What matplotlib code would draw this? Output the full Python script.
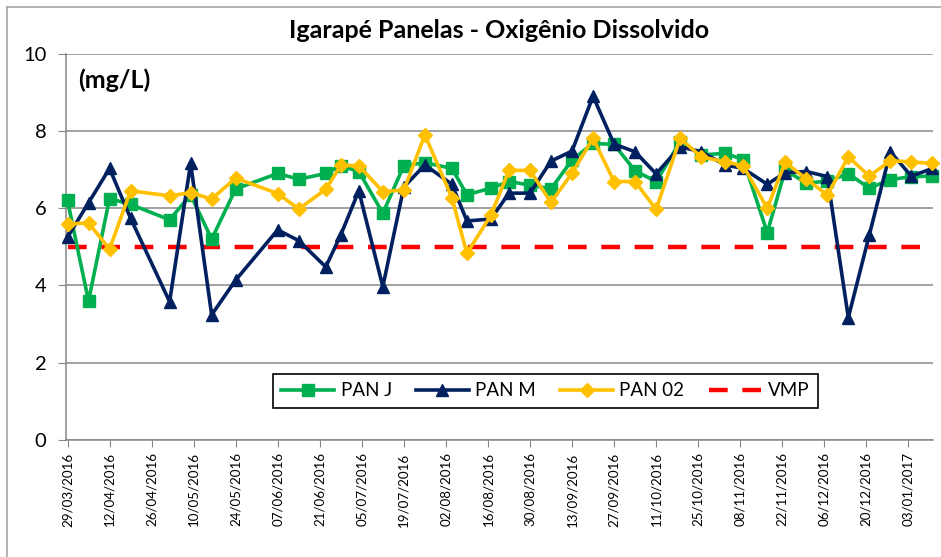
"""
Igarapé Panelas - Oxigênio Dissolvido: PAN J, PAN M, PAN 02 against the VMP limit.
"""
import datetime as dt

import matplotlib
matplotlib.use("Agg")
import matplotlib.pyplot as plt
import matplotlib.dates as mdates
from matplotlib.lines import Line2D

plt.rcParams['font.family'] = ['Lato', 'DejaVu Sans']

# sampling days, counted from 29/03/2016
start = dt.date(2016, 3, 29)
sample_days = [0, 7, 14, 21, 34, 41, 48, 56, 70, 77,
               86, 91, 97, 105, 112, 119, 128, 133, 141, 147,
               154, 161, 168, 175, 182, 189, 196, 204, 211, 219,
               225, 233, 239, 246, 253, 260, 267, 274, 281, 288]
dates = [start + dt.timedelta(days=d) for d in sample_days]

pan_j = [6.20, 3.60, 6.25, 6.10, 5.70, 6.35, 5.20, 6.50, 6.90, 6.75,
         6.90, 7.10, 6.95, 5.87, 7.10, 7.18, 7.03, 6.35, 6.52, 6.69,
         6.60, 6.50, 7.25, 7.68, 7.65, 6.97, 6.69, 7.72, 7.38, 7.42,
         7.26, 5.37, 6.99, 6.65, 6.70, 6.89, 6.52, 6.74, 6.82, 6.83]

pan_m = [5.25, 6.14, 7.03, 5.74, 3.58, 7.16, 3.24, 4.14, 5.44, 5.16,
         4.48, 5.31, 6.45, 3.97, 6.55, 7.12, 6.62, 5.67, 5.72, 6.39,
         6.39, 7.22, 7.48, 8.90, 7.66, 7.46, 6.89, 7.59, 7.46, 7.12,
         7.03, 6.62, 6.92, 6.95, 6.82, 3.17, 5.31, 7.46, 6.83, 7.03]

pan_02 = [5.59, 5.62, 4.94, 6.45, 6.32, 6.40, 6.24, 6.78, 6.38, 5.98,
          6.49, 7.11, 7.10, 6.43, 6.47, 7.90, 6.27, 4.83, 5.82, 6.98,
          6.98, 6.15, 6.91, 7.81, 6.69, 6.69, 5.97, 7.81, 7.33, 7.20,
          7.10, 6.00, 7.19, 6.76, 6.34, 7.33, 6.83, 7.23, 7.20, 7.16]

vmp = 5.0

tick_dates = [start + dt.timedelta(days=14 * k) for k in range(21)]

fig = plt.figure(figsize=(9.41, 5.57), dpi=100)
ax = fig.add_axes([66 / 941, 1 - 440 / 557, 867 / 941, 386.3 / 557])

# outer chart border (only top and left are visible in the crop)
fig.add_artist(Line2D([7 / 941, 1.0], [1 - 7 / 557] * 2, color='#a6a6a6', lw=1.2))
fig.add_artist(Line2D([7 / 941] * 2, [0.0, 1 - 7 / 557], color='#a6a6a6', lw=1.2))

ax.plot(dates, pan_j, color='#00b050', lw=2.6, marker='s', ms=8.5,
        label='PAN J', clip_on=False, zorder=3)
ax.plot(dates, pan_m, color='#002060', lw=2.6, marker='^', ms=9,
        label='PAN M', clip_on=False, zorder=4)
ax.plot(dates, pan_02, color='#ffc000', lw=2.6, marker='D', ms=7,
        label='PAN 02', clip_on=False, zorder=5)
ax.plot([start, dates[-1]], [vmp, vmp], color='#ff0000', lw=3.2,
        dashes=(4.2, 3.3), label='VMP', zorder=2)

ax.set_xlim(mdates.date2num(start) - 0.5, mdates.date2num(dates[-1]) + 0.2)
ax.set_ylim(0, 10)
ax.set_yticks([0, 2, 4, 6, 8, 10])
ax.set_xticks(tick_dates)
ax.xaxis.set_major_formatter(mdates.DateFormatter('%d/%m/%Y'))
for lab in ax.get_xticklabels():
    lab.set_rotation(90)

ax.tick_params(axis='x', labelsize=9.6, length=5, color='#868686', pad=4)
ax.tick_params(axis='y', labelsize=14.5, length=6, color='#868686', pad=8)
ax.grid(axis='y', color='#868686', lw=1.1)
ax.set_axisbelow(True)
for side in ['top', 'right']:
    ax.spines[side].set_visible(False)
for side in ['left', 'bottom']:
    ax.spines[side].set_color('#868686')
    ax.spines[side].set_linewidth(1.1)

ax.set_title('Igarapé Panelas - Oxigênio Dissolvido', fontsize=18,
             fontweight='bold', pad=11)
ax.text(0.014, 0.932, '(mg/L)', transform=ax.transAxes, fontsize=18,
        fontweight='bold', ha='left', va='center')

leg = ax.legend(loc='center', bbox_to_anchor=(0.553, 0.127), ncol=4,
                fontsize=13.5, frameon=True, fancybox=False, framealpha=1,
                edgecolor='black', handlelength=2.8, handletextpad=0.35,
                columnspacing=1.3, borderpad=0.45)
leg.get_frame().set_linewidth(1.2)

fig.savefig('out.png', dpi=100)
